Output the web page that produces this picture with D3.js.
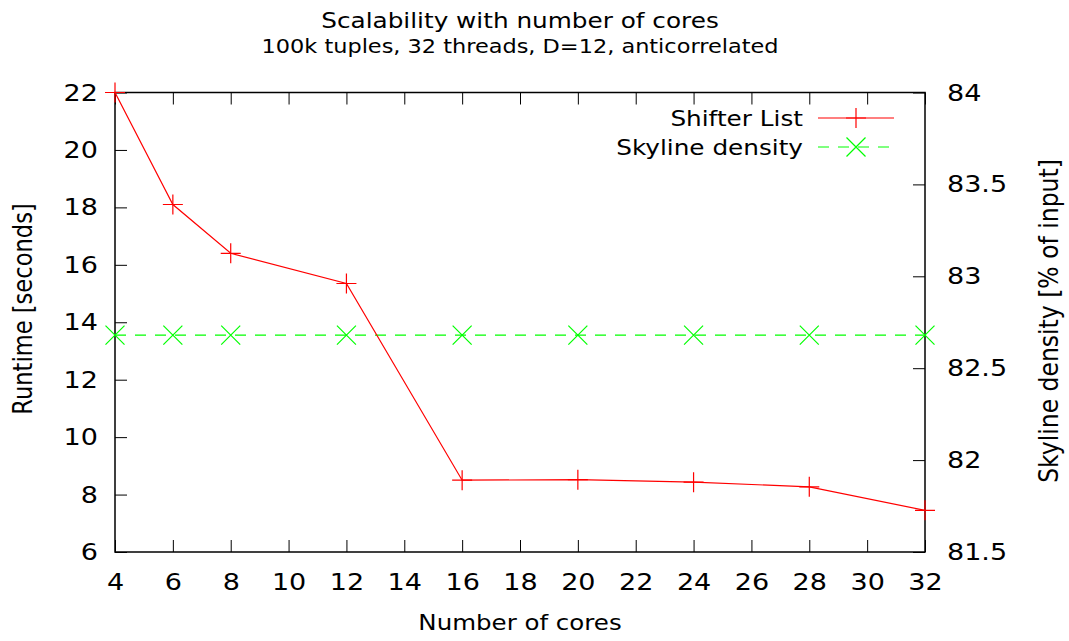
<!DOCTYPE html>
<html>
<head>
<meta charset="utf-8">
<script src="https://cdn.jsdelivr.net/npm/d3@7"></script>
<style>
  html, body { margin: 0; padding: 0; background: #fff; }
  svg { display: block; font-family: "DejaVu Sans", sans-serif; }
</style>
</head>
<body>
<svg id="chart" width="1069" height="641"></svg>
<script>
// Number of cores on the x axis
const cores = [4, 6, 8, 12, 16, 20, 24, 28, 32];
// Runtime in seconds (left axis)
const runtime = [22.0, 18.1, 16.4, 15.35, 8.5, 8.52, 8.43, 8.27, 7.45];
// Skyline density in % of input (right axis)
const density = [82.68, 82.68, 82.68, 82.68, 82.68, 82.68, 82.68, 82.68, 82.68];

const xTicks = d3.range(4, 33, 2);
const yTicks = d3.range(6, 23, 2);
const y2Ticks = [81.5, 82, 82.5, 83, 83.5, 84];

const svg = d3.select("#chart");
const L = 115, R = 925, T = 92.5, B = 552;
const tick = 12;
const SX = 1.15;           // horizontal widening of the glyphs

const x = d3.scaleLinear().domain([4, 32]).range([L, R]);
const y = d3.scaleLinear().domain([6, 22]).range([B, T]);
const y2 = d3.scaleLinear().domain([81.5, 84]).range([B, T]);

function styleAxis(g) {
  g.select(".domain").remove();
  g.selectAll(".tick line").attr("stroke", "#000").attr("stroke-width", 1);
  g.selectAll(".tick text").attr("fill", "#000").attr("font-size", 23.5)
    .attr("font-family", "DejaVu Sans, sans-serif")
    .each(function () {
      const t = d3.select(this);
      const tx = +t.attr("x") || 0, ty = +t.attr("y") || 0;
      t.attr("x", 0).attr("y", 0)
        .attr("transform", `translate(${tx},${ty}) scale(${SX},1)`);
    });
}

// bottom axis with labels
svg.append("g").attr("transform", `translate(0,${B})`)
  .call(d3.axisBottom(x).tickValues(xTicks).tickSize(-tick).tickPadding(21).tickFormat(d3.format("d")))
  .call(styleAxis);
// mirrored top ticks
svg.append("g").attr("transform", `translate(0,${T})`)
  .call(d3.axisTop(x).tickValues(xTicks).tickSize(-tick).tickFormat(""))
  .call(styleAxis);
// left axis
svg.append("g").attr("transform", `translate(${L},0)`)
  .call(d3.axisLeft(y).tickValues(yTicks).tickSize(-tick).tickPadding(17).tickFormat(d3.format("d")))
  .call(styleAxis);
// right axis
svg.append("g").attr("transform", `translate(${R},0)`)
  .call(d3.axisRight(y2).tickValues(y2Ticks).tickSize(-tick).tickPadding(22).tickFormat(d => d3.format("")(d)))
  .call(styleAxis);

// plot border
svg.append("rect")
  .attr("x", L).attr("y", T).attr("width", R - L).attr("height", B - T)
  .attr("fill", "none").attr("stroke", "#000").attr("stroke-width", 1.5);

const red = "#ff0000", green = "#00ff00";

// Skyline density: dashed green line with x markers
const densData = cores.map((c, i) => [c, density[i]]);
svg.append("path")
  .datum(densData)
  .attr("fill", "none").attr("stroke", green).attr("stroke-width", 1.2)
  .attr("stroke-dasharray", "11,9")
  .attr("d", d3.line().x(d => x(d[0])).y(d => y2(d[1])));

function crossMark(g, cx, cy, color) {
  const s = 9.5;
  g.append("path")
    .attr("d", `M${cx - s},${cy - s}L${cx + s},${cy + s}M${cx - s},${cy + s}L${cx + s},${cy - s}`)
    .attr("stroke", color).attr("stroke-width", 1.2).attr("fill", "none");
}
function plusMark(g, cx, cy, color) {
  const s = 10;
  g.append("path")
    .attr("d", `M${cx - s},${cy}L${cx + s},${cy}M${cx},${cy - s}L${cx},${cy + s}`)
    .attr("stroke", color).attr("stroke-width", 1.2).attr("fill", "none");
}

const dm = svg.append("g");
densData.forEach(d => crossMark(dm, x(d[0]), y2(d[1]), green));

// Shifter List runtime: red line with + markers
const runData = cores.map((c, i) => [c, runtime[i]]);
svg.append("path")
  .datum(runData)
  .attr("fill", "none").attr("stroke", red).attr("stroke-width", 1.2)
  .attr("d", d3.line().x(d => x(d[0])).y(d => y(d[1])));
const rm = svg.append("g");
runData.forEach(d => plusMark(rm, x(d[0]), y(d[1]), red));

// text helper: places text at (tx,ty) with widened glyphs, optional rotation
function label(tx, ty, str, size, anchor, rotate) {
  const rot = rotate ? ` rotate(${rotate})` : "";
  return svg.append("text")
    .attr("transform", `translate(${tx},${ty}) scale(${SX},1)${rot}`)
    .attr("text-anchor", anchor).attr("font-size", size).attr("fill", "#000")
    .text(str);
}

// legend
const leg = svg.append("g");
const legItems = [
  { label: "Shifter List", color: red, dash: null, mark: plusMark, y: 118 },
  { label: "Skyline density", color: green, dash: "11,9", mark: crossMark, y: 147 }
];
legItems.forEach(it => {
  label(803, it.y + 7.5, it.label, 21.5, "end");
  leg.append("line").attr("x1", 818).attr("x2", 894).attr("y1", it.y).attr("y2", it.y)
    .attr("stroke", it.color).attr("stroke-width", 1.2)
    .attr("stroke-dasharray", it.dash);
  it.mark(leg, 856, it.y, it.color);
});

// titles
label(520, 28, "Scalability with number of cores", 21.5, "middle");
label(520, 53, "100k tuples, 32 threads, D=12, anticorrelated", 19.5, "middle");

// axis titles
label(520, 630, "Number of cores", 21.3, "middle");
label(32, 309, "Runtime [seconds]", 22.6, "middle", -90);
label(1058, 321, "Skyline density [% of input]", 23.5, "middle", -90);
</script>
</body>
</html>
